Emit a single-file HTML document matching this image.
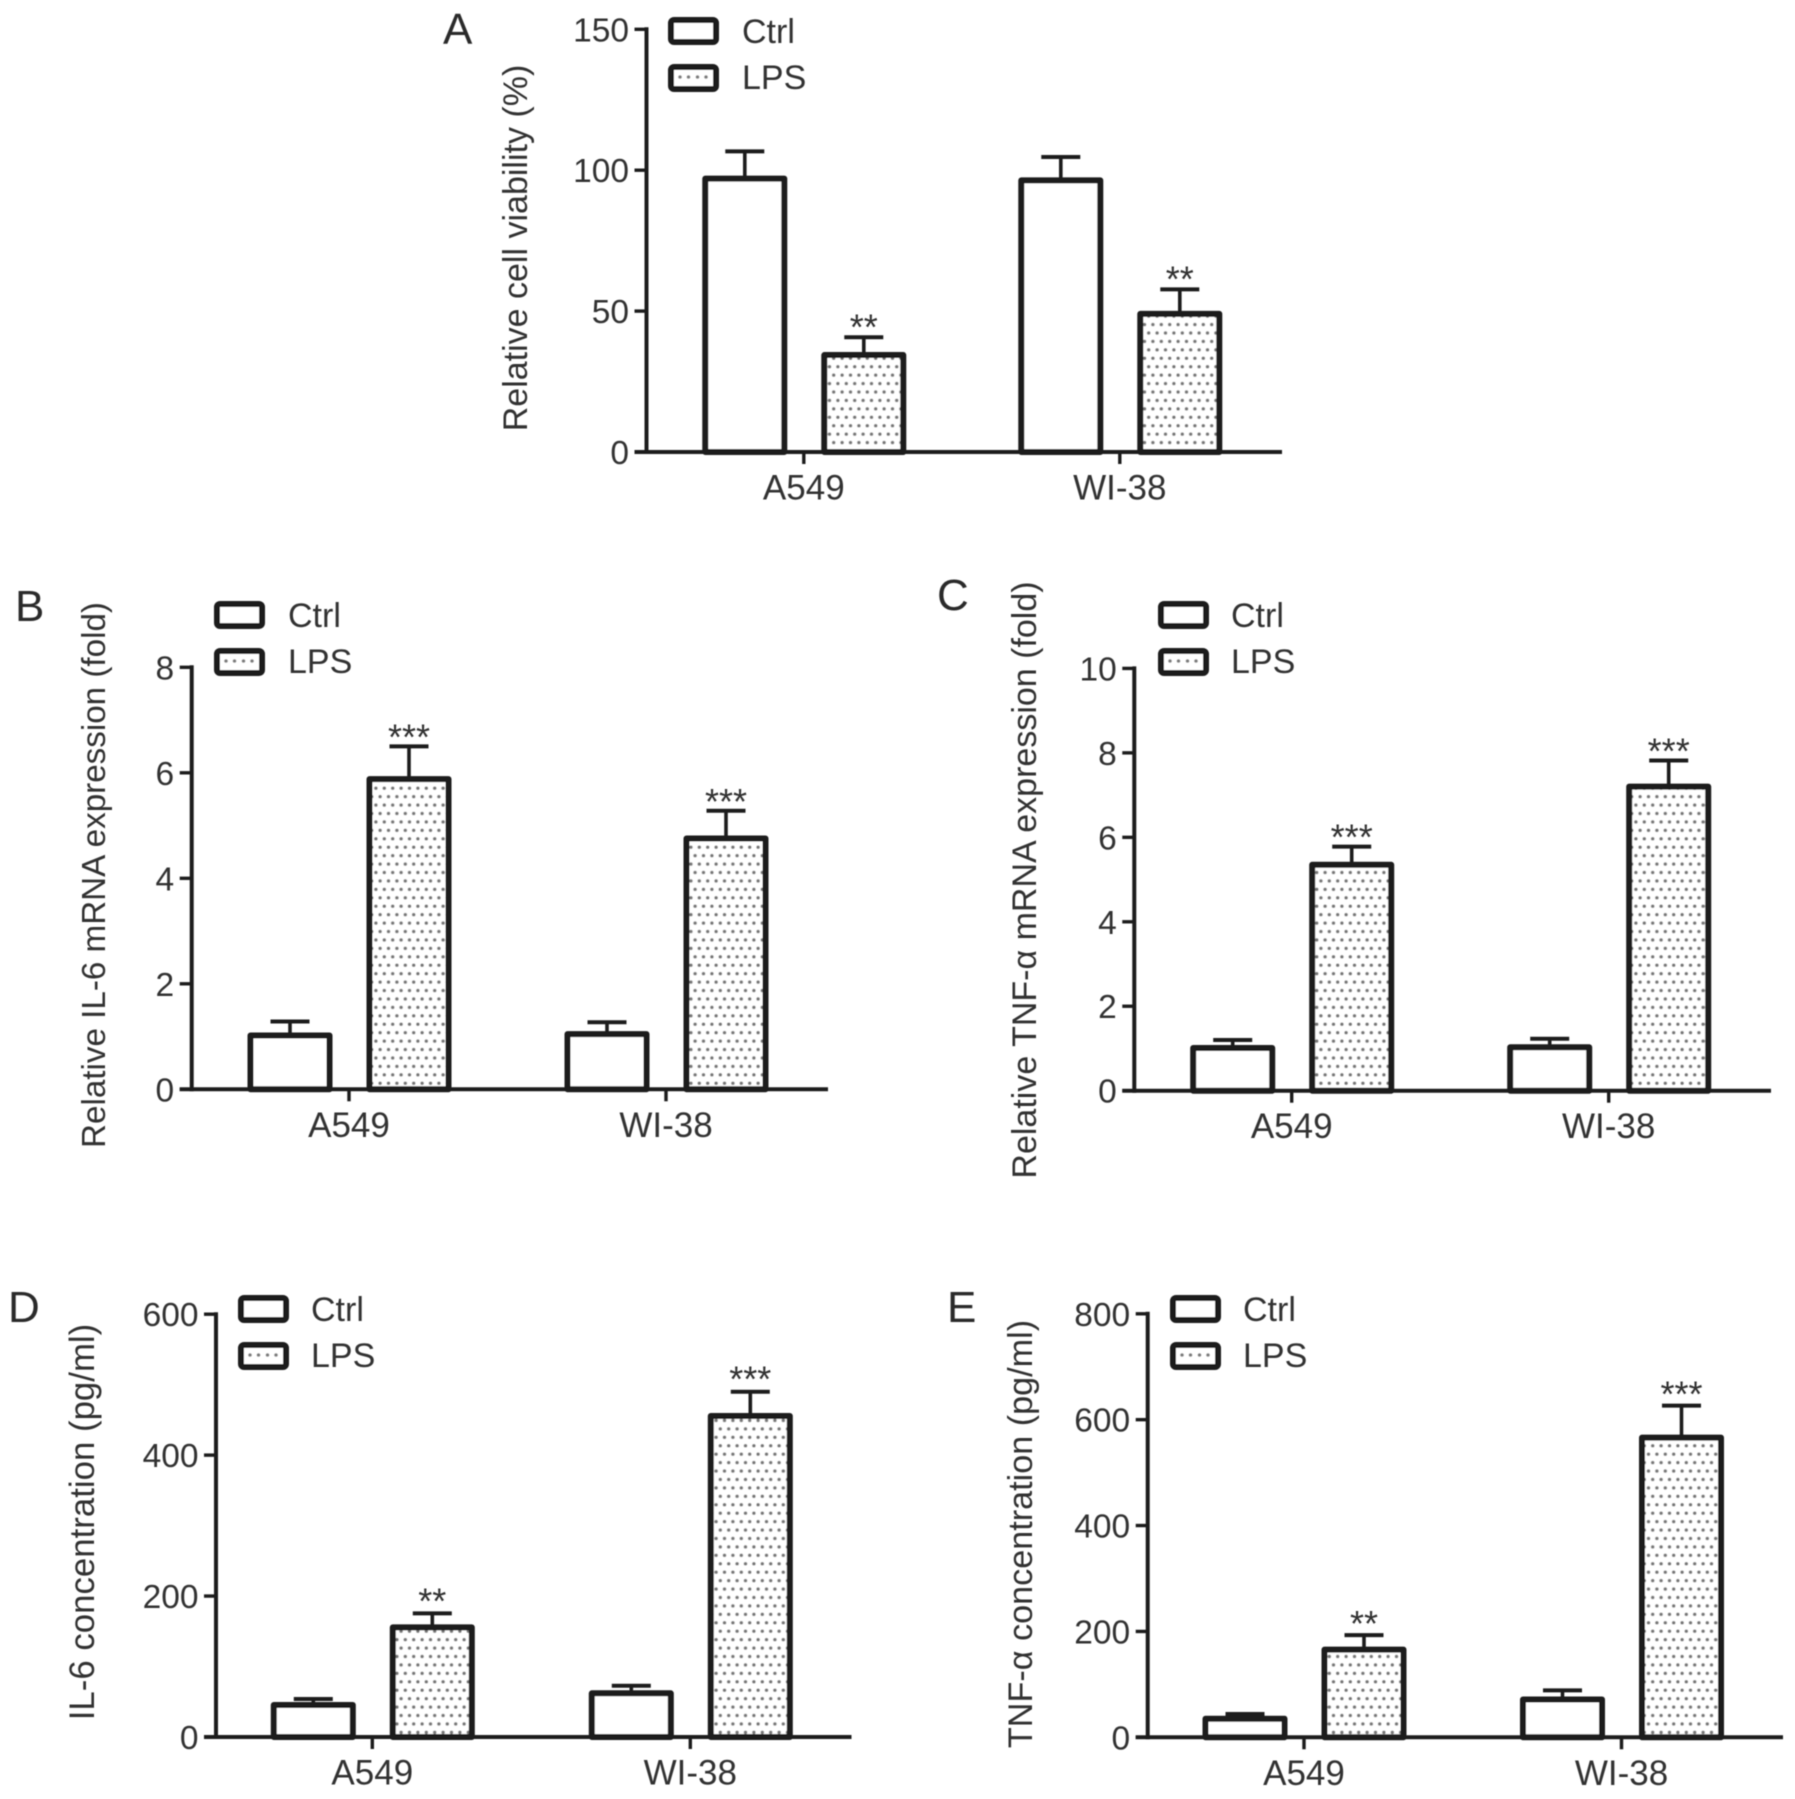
<!DOCTYPE html>
<html lang="en">
<head>
<meta charset="utf-8">
<title>Cell viability and cytokine expression panels</title>
<style>
html,body{margin:0;padding:0;background:#fff;width:1795px;height:1799px;overflow:hidden}
svg{display:block}
text{font-family:"Liberation Sans",Arial,sans-serif;fill:#333}
.big{font-size:44px;fill:#2a2a2a}
.ttl{text-anchor:middle}
.leg{font-size:34px}
.box{fill:#fff;stroke:#1e1e1e;stroke-width:6}
.dot{fill:#7d7d7d}
</style>
</head>
<body>
<svg id="fig" xmlns="http://www.w3.org/2000/svg" width="1795" height="1799" viewBox="0 0 1795 1799">
  <defs>
    <filter id="soft" filterUnits="userSpaceOnUse" x="0" y="0" width="1795" height="1799"><feGaussianBlur stdDeviation="0.65"/></filter>
    <pattern id="dots" patternUnits="userSpaceOnUse" width="8.4" height="16.86">
      <rect width="8.4" height="16.86" fill="#fff"/>
      <circle cx="2.1" cy="4.2" r="1.75" fill="#777"/>
      <circle cx="6.3" cy="12.63" r="1.75" fill="#777"/>
    </pattern>
  </defs>
  <rect width="1795" height="1799" fill="#fff"/>
  <g id="root" filter="url(#soft)">
    <text class="big" x="443" y="44">A</text>
    <text class="big" x="15" y="621">B</text>
    <text class="big" x="937" y="610">C</text>
    <text class="big" x="8" y="1322">D</text>
    <text class="big" x="947" y="1322">E</text>

    <text class="ttl" font-size="34" transform="translate(527,248) rotate(-90)">Relative cell viability (%)</text>
    <text class="ttl" font-size="33.2" transform="translate(105,875) rotate(-90)">Relative IL-6 mRNA expression (fold)</text>
    <text class="ttl" font-size="34" transform="translate(1036,880) rotate(-90)">Relative TNF-α mRNA expression (fold)</text>
    <text class="ttl" font-size="34.8" transform="translate(94,1522) rotate(-90)">IL-6 concentration (pg/ml)</text>
    <text class="ttl" font-size="34.2" transform="translate(1032,1534) rotate(-90)">TNF-α concentration (pg/ml)</text>

    <g transform="translate(668,17)">
      <rect class="box" x="3" y="3" width="45" height="22" rx="3"/>
      <text class="leg" x="74" y="26">Ctrl</text>
      <rect class="box" x="3" y="50" width="45" height="22" rx="3"/>
      <circle class="dot" cx="12" cy="60" r="1.8"/><circle class="dot" cx="20.5" cy="60" r="1.8"/><circle class="dot" cx="29.5" cy="60" r="1.8"/><circle class="dot" cx="38" cy="60" r="1.8"/>
      <text class="leg" x="74" y="72">LPS</text>
    </g>
    <g transform="translate(214,601)">
      <rect class="box" x="3" y="3" width="45" height="22" rx="3"/>
      <text class="leg" x="74" y="26">Ctrl</text>
      <rect class="box" x="3" y="50" width="45" height="22" rx="3"/>
      <circle class="dot" cx="12" cy="60" r="1.8"/><circle class="dot" cx="20.5" cy="60" r="1.8"/><circle class="dot" cx="29.5" cy="60" r="1.8"/><circle class="dot" cx="38" cy="60" r="1.8"/>
      <text class="leg" x="74" y="72">LPS</text>
    </g>
    <g transform="translate(1158,601)">
      <rect class="box" x="3" y="3" width="45" height="22" rx="3"/>
      <text class="leg" x="73" y="26">Ctrl</text>
      <rect class="box" x="3" y="50" width="45" height="22" rx="3"/>
      <circle class="dot" cx="12" cy="60" r="1.8"/><circle class="dot" cx="20.5" cy="60" r="1.8"/><circle class="dot" cx="29.5" cy="60" r="1.8"/><circle class="dot" cx="38" cy="60" r="1.8"/>
      <text class="leg" x="73" y="72">LPS</text>
    </g>
    <g transform="translate(238,1295)">
      <rect class="box" x="3" y="3" width="45" height="22" rx="3"/>
      <text class="leg" x="73" y="26">Ctrl</text>
      <rect class="box" x="3" y="50" width="45" height="22" rx="3"/>
      <circle class="dot" cx="12" cy="60" r="1.8"/><circle class="dot" cx="20.5" cy="60" r="1.8"/><circle class="dot" cx="29.5" cy="60" r="1.8"/><circle class="dot" cx="38" cy="60" r="1.8"/>
      <text class="leg" x="73" y="72">LPS</text>
    </g>
    <g transform="translate(1170,1295)">
      <rect class="box" x="3" y="3" width="45" height="22" rx="3"/>
      <text class="leg" x="73" y="26">Ctrl</text>
      <rect class="box" x="3" y="50" width="45" height="22" rx="3"/>
      <circle class="dot" cx="12" cy="60" r="1.8"/><circle class="dot" cx="20.5" cy="60" r="1.8"/><circle class="dot" cx="29.5" cy="60" r="1.8"/><circle class="dot" cx="38" cy="60" r="1.8"/>
      <text class="leg" x="73" y="72">LPS</text>
    </g>
  </g>
</svg>
<script>
// ---- data ----
const categories = ['A549', 'WI-38'];

const ticksA = [0, 50, 100, 150];
const ctrlA = [97, 96.4];
const lpsA = [34.4, 49];
const ctrlErrA = [9.7, 8.3];
const lpsErrA = [6.3, 8.7];
const starsA = ['', '**', '', '**'];

const ticksB = [0, 2, 4, 6, 8];
const ctrlB = [1.02, 1.045];
const lpsB = [5.88, 4.755];
const ctrlErrB = [0.265, 0.225];
const lpsErrB = [0.62, 0.525];
const starsB = ['', '***', '', '***'];

const ticksC = [0, 2, 4, 6, 8, 10];
const ctrlC = [1.01, 1.03];
const lpsC = [5.35, 7.2];
const ctrlErrC = [0.19, 0.2];
const lpsErrC = [0.43, 0.62];
const starsC = ['', '***', '', '***'];

const ticksD = [0, 200, 400, 600];
const ctrlD = [45.5, 62];
const lpsD = [155.5, 455.5];
const ctrlErrD = [8.5, 10.7];
const lpsErrD = [20, 34.5];
const starsD = ['', '**', '', '***'];

const ticksE = [0, 200, 400, 600, 800];
const ctrlE = [35, 71.4];
const lpsE = [165.7, 566];
const ctrlErrE = [9, 17.2];
const lpsErrE = [27.3, 60.5];
const starsE = ['', '**', '', '***'];

// ---- panel layout (frames only) ----
const panels = [
  {id:'a', ticks:ticksA, ctrl:ctrlA, lps:lpsA, ctrlErr:ctrlErrA, lpsErr:lpsErrA, stars:starsA, left:646.5, right:1282, top:29.3, bottom:452, cat:803.8, step:316, starGap:2},
  {id:'b', ticks:ticksB, ctrl:ctrlB, lps:lpsB, ctrlErr:ctrlErrB, lpsErr:lpsErrB, stars:starsB, left:191.7, right:828, top:667.3, bottom:1089.3, cat:349, step:317, starGap:3},
  {id:'c', ticks:ticksC, ctrl:ctrlC, lps:lpsC, ctrlErr:ctrlErrC, lpsErr:lpsErrC, stars:starsC, left:1134.3, right:1771, top:668.4, bottom:1090.7, cat:1291.7, step:317, starGap:3},
  {id:'d', ticks:ticksD, ctrl:ctrlD, lps:lpsD, ctrlErr:ctrlErrD, lpsErr:lpsErrD, stars:starsD, left:216, right:851.5, top:1314.2, bottom:1737, cat:372.3, step:318, starGap:0},
  {id:'e', ticks:ticksE, ctrl:ctrlE, lps:lpsE, ctrlErr:ctrlErrE, lpsErr:lpsErrE, stars:starsE, left:1147.7, right:1783, top:1313.8, bottom:1737.3, cat:1304, step:317.5, starGap:1}
];
const CTRL_OFFSET = -59, LPS_OFFSET = 60, BAR_W = 79, CAP_W = 39, TICK = 12;
const INK = '#1e1e1e', NS = 'http://www.w3.org/2000/svg';
const root = document.getElementById('root');

function make(tag, attrs, parent) {
  const n = document.createElementNS(NS, tag);
  for (const k in attrs) n.setAttribute(k, attrs[k]);
  parent.appendChild(n);
  return n;
}
function line(parent, x1, y1, x2, y2, w) {
  return make('line', {x1, y1, x2, y2, stroke: INK, 'stroke-width': w}, parent);
}

panels.forEach(function (p) {
  const g = make('g', {}, root);
  
  

  const maxV = p.ticks[p.ticks.length - 1];
  const yScale = function (v) { return p.bottom - (v / maxV) * (p.bottom - p.top); };
  const xScale = function (i) { return p.cat + i * p.step; };

  function drawBar(value, err, cx, fill, name, star) {
    const y = yScale(value), yc = yScale(value + err);
    const stem = line(g, cx, y, cx, yc, 3.6);
    
    
    const cap = line(g, cx - CAP_W / 2, yc, cx + CAP_W / 2, yc, 4);
    
    
    const bar = make('rect', {x: cx - BAR_W / 2, y: y, width: BAR_W, height: p.bottom - y, fill: fill, stroke: INK, 'stroke-width': 6, 'stroke-linejoin': 'round'}, g);
    
    
    if (star) {
      const s = make('text', {x: cx, y: yc + p.starGap, 'text-anchor': 'middle', 'font-size': 36}, g);
      s.textContent = star;
      
      
    }
  }

  categories.forEach(function (c, i) {
    const key = p.id + '-' + c.toLowerCase();
    drawBar(p.ctrl[i], p.ctrlErr[i], xScale(i) + CTRL_OFFSET, '#fff', key + '-ctrl', p.stars[i * 2]);
    drawBar(p.lps[i], p.lpsErr[i], xScale(i) + LPS_OFFSET, 'url(#dots)', key + '-lps', p.stars[i * 2 + 1]);
  });

  const yAxis = line(g, p.left, p.top - 2, p.left, p.bottom + 2, 4);
  
  
  const xAxis = line(g, p.left - TICK, p.bottom, p.right, p.bottom, 4);
  
  

  p.ticks.forEach(function (t) {
    const y = yScale(t);
    const mark = line(g, p.left - TICK, y, p.left, y, 3.4);
    
    
    const lab = make('text', {x: p.left - TICK - 5.5, y: y + 12, 'text-anchor': 'end', 'font-size': 33.5}, g);
    lab.textContent = t;
    
    
  });

  categories.forEach(function (c, i) {
    const x = xScale(i);
    const mark = line(g, x, p.bottom, x, p.bottom + TICK, 3.4);
    
    
    const lab = make('text', {x: x, y: p.bottom + 47.5, 'text-anchor': 'middle', 'font-size': 35}, g);
    lab.textContent = c;
    
    
  });
});
</script>
</body>
</html>
